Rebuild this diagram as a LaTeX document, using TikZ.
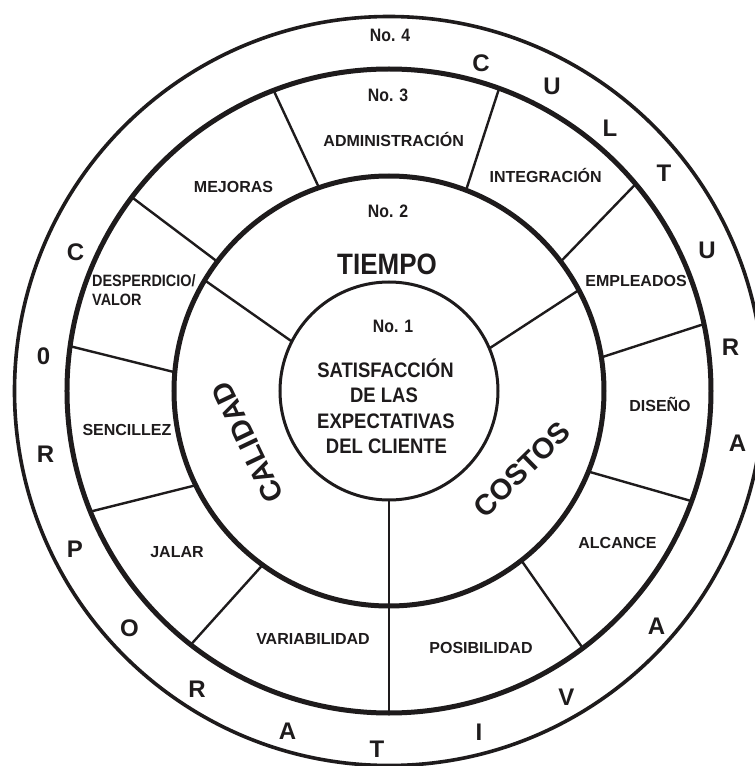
\documentclass[tikz,border=0pt]{standalone}
\usepackage{fontspec}
\setmainfont{Liberation Sans}
\newfontfamily\nfont{Liberation Sans}[FakeStretch=0.88]
\definecolor{ink}{RGB}{30,27,28}
\tikzset{
  ring/.style={circle, draw=ink, inner sep=0pt, outer sep=0pt},
  divider/.style={draw=ink, line width=2.4pt},
  lbl/.style={inner sep=0pt, text=ink, font=\fontsize{16}{16}\selectfont\bfseries, text height=11.5pt, text depth=0pt},
  nlbl/.style={inner sep=0pt, text=ink, font=\nfont\fontsize{16.4}{16.4}\selectfont\bfseries, text height=11.7pt, text depth=0pt},
  numlbl/.style={inner sep=0pt, text=ink, font=\nfont\fontsize{18}{18}\selectfont\bfseries, text height=12.9pt, text depth=0pt},
  ctr/.style={inner sep=0pt, text=ink, font=\nfont\fontsize{21}{21}\selectfont\bfseries, text height=15pt, text depth=0pt},
  bigtxt/.style={inner sep=0pt, text=ink, font=\fontsize{29}{29}\selectfont\bfseries, text height=20.8pt, text depth=0pt},
  tiempotxt/.style={inner sep=0pt, text=ink, font=\nfont\fontsize{29.5}{29.5}\selectfont\bfseries, text height=21pt, text depth=0pt},
  letter/.style={inner sep=0pt, text=ink, font=\fontsize{24}{24}\selectfont\bfseries, text height=17.2pt, text depth=0pt},
}
\begin{document}
\begin{tikzpicture}[x=1pt,y=1pt]
\useasboundingbox (-389,-375) rectangle (366,391);
\clip (-389,-375) rectangle (366,391);
\fill[white] (-389,-375) rectangle (366,391);

% circles
\node[ring, minimum size=749pt, line width=3.6pt] (outer) at (0,0) {};
\node[ring, minimum size=644pt, line width=5pt] (mid) at (0,0) {};
\node[ring, minimum size=430pt, line width=5pt] (inn) at (0,0) {};
\node[ring, minimum size=218pt, line width=3pt] (core) at (0,0) {};

% dividers in ring No. 3
\draw[divider] (inn.109) -- (mid.111);
\draw[divider] (inn.69) -- (mid.70.8);
\draw[divider] (inn.37) -- (mid.40.6);
\draw[divider] (inn.9.1) -- (mid.12.1);
\draw[divider] (inn.338) -- (mid.340.4);
\draw[divider] (inn.308.9) -- (mid.307.6);
\draw[divider] (inn.270) -- (mid.270);
\draw[divider] (inn.234.1) -- (mid.232.6);
\draw[divider] (inn.206.6) -- (mid.202.7);
\draw[divider] (inn.175.5) -- (mid.172.7);
\draw[divider] (inn.143.5) -- (mid.143);

% dividers in ring No. 2
\draw[divider] (core.153) -- (inn.149.6);
\draw[divider] (core.23.5) -- (inn.28.5);
\draw[divider] (core.270) -- (inn.270);

% number labels
\node[numlbl] (n4) at (1,356) {No. 4};
\node[numlbl] (n3) at (-1,296) {No. 3};
\node[numlbl] (n2) at (-1,180) {No. 2};
\node[numlbl] (n1) at (4,65) {No. 1};

% ring 3 labels
\node[lbl] (adm) at (4.7,250) {ADMINISTRACIÓN};
\node[lbl] (integ) at (156.7,214.5) {INTEGRACIÓN};
\node[lbl] (mejoras) at (-155.5,204) {MEJORAS};
\node[lbl] (empl) at (247,110) {EMPLEADOS};
\node[lbl] (dis) at (271,-14.5) {DISEÑO};
\node[lbl] (alc) at (228.5,-151.5) {ALCANCE};
\node[lbl] (posib) at (92,-257) {POSIBILIDAD};
\node[lbl] (variab) at (-76,-248) {VARIABILIDAD};
\node[lbl] (jalar) at (-212,-161) {JALAR};
\node[lbl] (senc) at (-262,-38.5) {SENCILLEZ};
\node[nlbl, anchor=west] (desp) at (-297,110) {DESPERDICIO/};
\node[nlbl, anchor=west] (valor) at (-297,91) {VALOR};

% ring 2 labels
\node[tiempotxt] (tiempo) at (-2,126.5) {TIEMPO};
\node[bigtxt, rotate=115.5] (calidad) at (-141.5,-51.5) {CALIDAD};
\node[bigtxt, rotate=44.4] (costos) at (132.7,-78.2) {COSTOS};

% centre
\node[ctr] (t1) at (-3.5,21.5) {SATISFACCIÓN};
\node[ctr] (t2) at (-5,-3.5) {DE LAS};
\node[ctr] (t3) at (-3,-29.5) {EXPECTATIVAS};
\node[ctr] (t4) at (-2.5,-54.5) {DEL CLIENTE};

% outer ring letters
\node[letter] (l1) at (92,328.5) {C};
\node[letter] (l2) at (163,305) {U};
\node[letter] (l3) at (221,263.5) {L};
\node[letter] (l4) at (275,218.5) {T};
\node[letter] (l5) at (318,141) {U};
\node[letter] (l6) at (341.5,44.5) {R};
\node[letter] (l7) at (348.5,-51.5) {A};
\node[letter] (m1) at (-313.5,139.5) {C};
\node[letter] (m2) at (-345.5,35) {0};
\node[letter] (m3) at (-343.5,-62.5) {R};
\node[letter] (m4) at (-314,-157.5) {P};
\node[letter] (m5) at (-259.5,-236.5) {O};
\node[letter] (m6) at (-192,-298) {R};
\node[letter] (m7) at (-101.5,-340) {A};
\node[letter] (m8) at (-12,-357.5) {T};
\node[letter] (m9) at (90,-340.5) {I};
\node[letter] (m10) at (177.5,-306) {V};
\node[letter] (m11) at (267.5,-235) {A};
\end{tikzpicture}
\end{document}
